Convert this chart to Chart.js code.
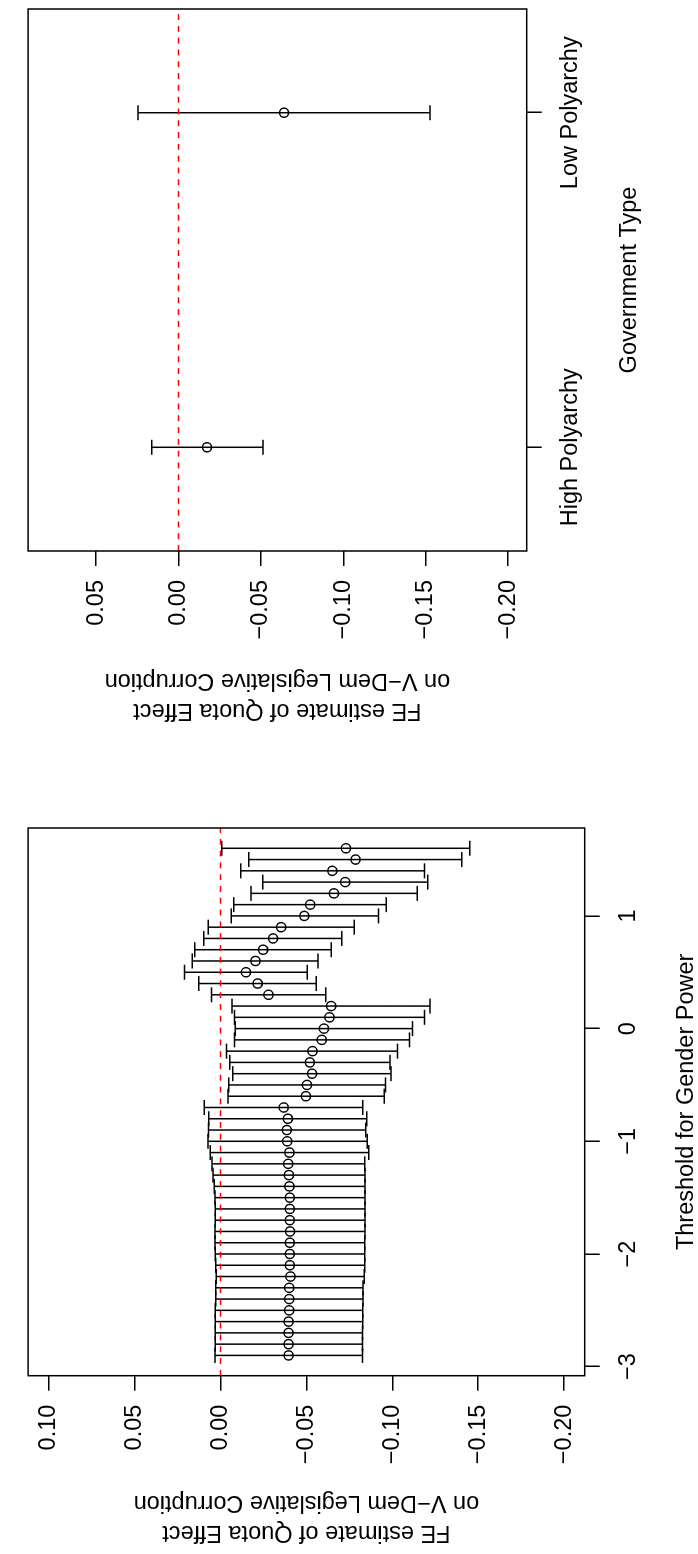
<!DOCTYPE html>
<html>
<head>
<meta charset="utf-8">
<script src="https://cdn.jsdelivr.net/npm/chart.js@4.4.1/dist/chart.umd.min.js"></script>
<style>
html, body { margin: 0; padding: 0; background: #fff; overflow: hidden; width: 698px; height: 1554px; }
#page { position: absolute; left: 0; top: 0; width: 1554px; height: 698px; background: #fff;
        transform-origin: 0 0; transform: translateY(1554px) rotate(-90deg); }
#c1 { position: absolute; left: 0; top: 0; }
#c2 { position: absolute; left: 777px; top: 0; }
</style>
</head>
<body>
<div id="page">
  <canvas id="c1" width="777" height="698"></canvas>
  <canvas id="c2" width="777" height="698"></canvas>
</div>
<script>
// ---------- Panel 1: Threshold for Gender Power ----------
const thresholds = [-2.9, -2.8, -2.7, -2.6, -2.5, -2.4, -2.3, -2.2, -2.1, -2.0,
                    -1.9, -1.8, -1.7, -1.6, -1.5, -1.4, -1.3, -1.2, -1.1, -1.0,
                    -0.9, -0.8, -0.7, -0.6, -0.5, -0.4, -0.3, -0.2, -0.1, 0.0,
                     0.1,  0.2,  0.3,  0.4,  0.5,  0.6,  0.7,  0.8,  0.9, 1.0,
                     1.1,  1.2,  1.3,  1.4,  1.5,  1.6];
const estimates = [-0.0396, -0.0396, -0.0396, -0.0396, -0.0400, -0.0400, -0.0400, -0.0407, -0.0403, -0.0403,
                   -0.0403, -0.0405, -0.0403, -0.0403, -0.0403, -0.0401, -0.0398, -0.0394, -0.0401, -0.0388,
                   -0.0386, -0.0392, -0.0368, -0.0497, -0.0503, -0.0533, -0.0520, -0.0535, -0.0589, -0.0602,
                   -0.0634, -0.0644, -0.0279, -0.0216, -0.0148, -0.0203, -0.0248, -0.0306, -0.0353, -0.0488,
                   -0.0522, -0.0660, -0.0726, -0.0651, -0.0786, -0.0730];
const upperCI = [0.0032, 0.0030, 0.0030, 0.0030, 0.0030, 0.0028, 0.0028, 0.0025, 0.0028, 0.0030,
                 0.0032, 0.0032, 0.0030, 0.0030, 0.0032, 0.0036, 0.0043, 0.0049, 0.0060, 0.0073,
                 0.0070, 0.0068, 0.0094, -0.0043, -0.0048, -0.0071, -0.0054, -0.0035, -0.0082, -0.0086,
                 -0.0082, -0.0067, 0.0053, 0.0126, 0.0210, 0.0165, 0.0150, 0.0098, 0.0072, -0.0062,
                 -0.0077, -0.0178, -0.0246, -0.0118, -0.0165, -0.0007];
const lowerCI = [-0.0826, -0.0826, -0.0826, -0.0828, -0.0828, -0.0829, -0.0829, -0.0837, -0.0840, -0.0840,
                 -0.0840, -0.0841, -0.0841, -0.0841, -0.0841, -0.0841, -0.0841, -0.0839, -0.0863, -0.0854,
                 -0.0846, -0.0852, -0.0828, -0.0953, -0.0961, -0.0993, -0.0987, -0.1030, -0.1100, -0.1118,
                 -0.1188, -0.1220, -0.0612, -0.0557, -0.0505, -0.0568, -0.0644, -0.0706, -0.0779, -0.0920,
                 -0.0965, -0.1145, -0.1207, -0.1188, -0.1405, -0.1451];
const thresholdTicks = [-3, -2, -1, 0, 1];
const thresholdTickLabels = ['\u22123', '\u22122', '\u22121', '0', '1'];
const effectLimits1 = [-0.2, 0.1];
const effectTicks1 = [0.10, 0.05, 0.00, -0.05, -0.10, -0.15, -0.20];
const effectTickLabels1 = ['0.10', '0.05', '0.00', '\u22120.05', '\u22120.10', '\u22120.15', '\u22120.20'];

// ---------- Panel 2: Government Type ----------
const govTypes = ['High Polyarchy', 'Low Polyarchy'];
const govPositions = [1, 2];
const govLimits = [0.75, 2.25];
const govEstimates = [-0.0173, -0.0640];
const govUpperCI = [0.0162, 0.0245];
const govLowerCI = [-0.0512, -0.1525];
const effectLimits2 = [-0.2, 0.08];
const effectTicks2 = [0.05, 0.00, -0.05, -0.10, -0.15, -0.20];
const effectTickLabels2 = ['0.05', '0.00', '\u22120.05', '\u22120.10', '\u22120.15', '\u22120.20'];

const yTitle = ['FE estimate of Quota Effect', 'on V\u2212Dem Legislative Corruption'];

Chart.defaults.font.family = "'Liberation Sans', Arial, Helvetica, sans-serif";
Chart.defaults.font.size = 23.5;
Chart.defaults.color = '#000';

function rRange(lim) { const e = 0.04 * (lim[1] - lim[0]); return [lim[0] - e, lim[1] + e]; }

const framePlugin = {
  id: 'frame',
  afterDatasetsDraw(chart) {
    const a = chart.chartArea, ctx = chart.ctx;
    ctx.save();
    ctx.strokeStyle = '#000';
    ctx.lineWidth = 1.5;
    ctx.strokeRect(a.left, a.top, a.right - a.left, a.bottom - a.top);
    ctx.restore();
  }
};

function errorBarData(xs, lo, hi) {
  const d = [];
  xs.forEach((x, i) => { d.push({x: x, y: lo[i]}, {x: x, y: hi[i]}, {x: x, y: null}); });
  return d;
}

function makeChart(canvasId, cfg) {
  const xr = rRange(cfg.xLim), yr = rRange(cfg.yLim);
  return new Chart(document.getElementById(canvasId), {
    type: 'scatter',
    data: {
      datasets: [
        { // zero reference line (drawn on top)
          type: 'line',
          data: [{x: xr[0], y: 0}, {x: xr[1], y: 0}],
          borderColor: '#FF0000', borderWidth: 1.47, borderDash: [5.9, 5.9],
          pointRadius: 0, fill: false, tension: 0
        },
        { // point estimates
          type: 'scatter',
          data: cfg.xs.map((x, i) => ({x: x, y: cfg.est[i]})),
          pointStyle: 'circle', pointRadius: 4.6, pointBorderWidth: 1.5,
          pointBorderColor: '#000', pointBackgroundColor: 'rgba(0,0,0,0)', showLine: false
        },
        { // confidence intervals with caps
          type: 'line',
          data: errorBarData(cfg.xs, cfg.lo, cfg.hi),
          borderColor: '#000', borderWidth: 1.5, spanGaps: false, tension: 0, fill: false,
          pointStyle: 'line', pointRadius: 7.5, pointBorderWidth: 1.5,
          pointBorderColor: '#000', pointBackgroundColor: 'rgba(0,0,0,0)'
        }
      ]
    },
    options: {
      responsive: false, animation: false, events: [],
      layout: { padding: cfg.padding },
      plugins: { legend: { display: false }, tooltip: { enabled: false } },
      scales: {
        x: {
          type: 'linear', position: 'bottom', min: xr[0], max: xr[1],
          afterBuildTicks: s => { s.ticks = cfg.xTicks.map(v => ({value: v})); },
          afterFit: s => { s.height = cfg.xAxisHeight; },
          ticks: {
            callback: v => cfg.xTickLabels[cfg.xTicks.indexOf(v)],
            maxRotation: 0, minRotation: 0, autoSkip: false, padding: 15, color: '#000'
          },
          grid: { drawOnChartArea: false, drawTicks: true, tickLength: 15, color: '#000', lineWidth: 1.5 },
          border: { display: false },
          title: { display: true, text: cfg.xTitle, color: '#000',
                   font: { size: 23.5, lineHeight: 1 }, padding: { top: 0, bottom: cfg.xTitlePad } }
        },
        y: {
          type: 'linear', position: 'left', min: yr[0], max: yr[1],
          afterBuildTicks: s => { s.ticks = cfg.yTicks.map(v => ({value: v})); },
          afterFit: s => { s.width = cfg.yAxisWidth; },
          ticks: {
            callback: v => cfg.yTickLabels[cfg.yTicks.indexOf(v)],
            autoSkip: false, padding: 14, color: '#000'
          },
          grid: { drawOnChartArea: false, drawTicks: true, tickLength: 15, color: '#000', lineWidth: 1.5 },
          border: { display: false },
          title: { display: true, text: yTitle, color: '#000',
                   font: { size: 23.5, lineHeight: 1.25 }, padding: { top: cfg.yTitlePad, bottom: 0 } }
        }
      }
    },
    plugins: [framePlugin]
  });
}

makeChart('c1', {
  xs: thresholds, est: estimates, lo: lowerCI, hi: upperCI,
  xLim: [Math.min(...thresholds), Math.max(...thresholds)], yLim: effectLimits1,
  xTicks: thresholdTicks, xTickLabels: thresholdTickLabels,
  yTicks: effectTicks1, yTickLabels: effectTickLabels1,
  xTitle: 'Threshold for Gender Power',
  padding: { top: 8.3, right: 51, bottom: 0, left: 0 },
  xAxisHeight: 113.3, yAxisWidth: 178.3, xTitlePad: 0, yTitlePad: 7.0
});

makeChart('c2', {
  xs: govPositions, est: govEstimates, lo: govLowerCI, hi: govUpperCI,
  xLim: govLimits, yLim: effectLimits2,
  xTicks: govPositions, xTickLabels: govTypes,
  yTicks: effectTicks2, yTickLabels: effectTickLabels2,
  xTitle: 'Government Type',
  padding: { top: 8.6, right: 4.3, bottom: 0, left: 0 },
  xAxisHeight: 171.3, yAxisWidth: 226, xTitlePad: 56.5, yTitlePad: 52.3
});
</script>
</body>
</html>
